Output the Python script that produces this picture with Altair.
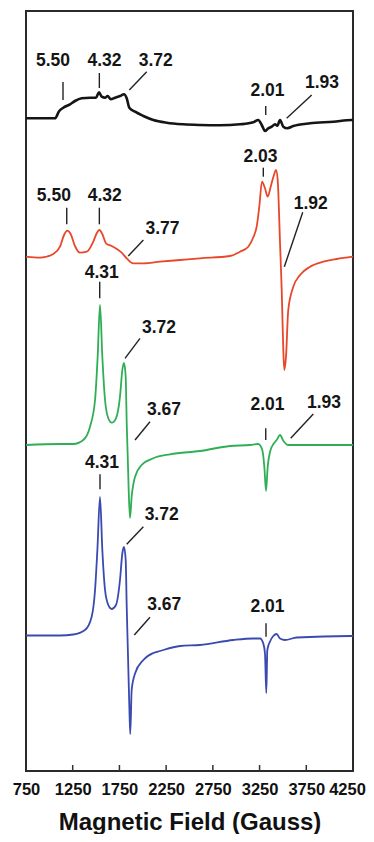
import altair as alt
import pandas as pd

# ---- data (field in Gauss, intensity in arbitrary units) ----
trace_names = ["black", "red", "green", "blue"]
trace_colors = ["#151515", "#e8472a", "#2fae55", "#3a4aae"]
trace_widths = [2.6, 1.8, 1.8, 1.8]
trace_offsets = [652.7, 514.3, 326.0, 135.5]

black_field = [750, 1060, 1106, 1149, 1221, 1274, 1346, 1435, 1499, 1531, 1560, 1596, 1624, 1657,
               1703, 1756, 1799, 1828, 1856, 1917, 2006, 2113, 2256, 2434, 2612, 2826, 3041, 3183,
               3236, 3273, 3308, 3343, 3380, 3415, 3440, 3469, 3504, 3547, 3611, 3790, 4039, 4236, 4250]
black_int = [0, 0, 7.3, 10.6, 14, 17.3, 20, 20.6, 20.6, 26, 21.6, 20.6, 22.3, 19,
             20.6, 22.3, 24, 20, 10.6, 6.6, 2.3, -1.7, -4.4, -6, -6.7, -7, -6, -4,
             -1.7, -6.7, -12.7, -10, -8.4, -6, -7.4, -1.7, -8.4, -10, -7.7, -5, -3.4, -1.7, -1.7]

red_field = [750, 900, 1042, 1114, 1157, 1192, 1228, 1274, 1328, 1400, 1470, 1507, 1535, 1571,
             1606, 1667, 1727, 1774, 1828, 1898, 2006, 2184, 2398, 2612, 2933, 3041, 3129, 3183,
             3219, 3247, 3276, 3308, 3337, 3369, 3404, 3426, 3444, 3469, 3487, 3504, 3515, 3533,
             3557, 3611, 3683, 3790, 3932, 4076, 4250]
red_int = [0, -1, 2.7, 10, 21.7, 26, 22.7, 10.7, 4, 5, 15, 23.4, 26.7, 21.7,
           13.4, 10.7, 7.4, 4, -1.6, -6.6, -6.6, -5, -3.3, -1.6, 0.7, 5, 10, 19.4,
           30, 50, 75, 68.4, 60, 70, 81.7, 86.7, 76.7, 13.4, -33.3, -93.3, -113.3, -100,
           -53.3, -30, -18.3, -10, -5, -2.3, 0]

green_field = [750, 1114, 1256, 1363, 1435, 1489, 1517, 1542, 1567, 1596, 1631, 1667, 1713, 1756,
               1781, 1799, 1817, 1828, 1839, 1849, 1863, 1881, 1917, 1988, 2113, 2291, 2612, 2933,
               3148, 3236, 3279, 3301, 3319, 3337, 3362, 3404, 3433, 3469, 3504, 3557, 3718, 4250]
green_int = [0, 1, 1, 5, 18.3, 45, 88.3, 140, 88.3, 45, 26.7, 22.3, 26.7, 48.3,
             75, 82, 68.3, 21.7, -11.7, -45, -73, -51.7, -31.7, -20, -13.3, -9.3, -6, -1,
             0, 1, -5, -21.7, -46, -21.7, -6.7, 1.7, 5, 10, 4.3, 0, 0, 0]

blue_field = [750, 1114, 1256, 1381, 1453, 1489, 1514, 1542, 1567, 1596, 1631, 1667, 1713, 1756,
              1781, 1799, 1817, 1828, 1842, 1856, 1866, 1881, 1917, 2006, 2113, 2184, 2400, 2612,
              2969, 3183, 3255, 3290, 3308, 3322, 3333, 3362, 3397, 3433, 3469, 3522, 3647, 4218, 4250]
blue_int = [0, 0, 1, 5.5, 18.8, 45.5, 85.5, 138.5, 85.5, 45.5, 30.5, 26.5, 30.5, 55.5,
            82, 88.5, 75.5, 29, -21, -71, -98.5, -54.5, -38, -24.5, -17.5, -15.5, -10.5, -9.5,
            -4.5, -3, -3, -8, -18, -57.5, -14.5, -6, -0.5, 1.5, -3, -4.5, -2, -0.5, -0.5]

fields = [black_field, red_field, green_field, blue_field]
intensities = [black_int, red_int, green_int, blue_int]

# g-value labels: text, field, level
label_text = ["5.50", "4.32", "3.72", "2.01", "1.93",
              "2.03", "5.50", "4.32", "3.77", "1.92",
              "4.31", "3.72", "3.67", "2.01", "1.93",
              "4.31", "3.72", "3.67", "2.01"]
label_field = [1039, 1590, 2139, 3335, 3918,
               3260, 1048, 1593, 2211, 3798,
               1560, 2174, 2227, 3335, 3940,
               1563, 2202, 2229, 3335]
label_level = [710, 710, 710, 680.3, 688.3,
               614.3, 575, 575, 541.7, 567,
               498.3, 442.7, 361, 366, 367.7,
               308.3, 256, 166, 163.7]

# leader lines: start field/level -> end field/level
lead_f1 = [1146, 1535, 2042, 3316, 3808, 3290, 1186, 1535, 2006, 3712, 1539, 1970, 2077, 3316, 3825, 1542, 2006, 2077, 3319]
lead_l1 = [689, 698, 699.3, 665, 676, 603.3, 563.3, 563.3, 531, 558.7, 489.3, 432.7, 349.3, 342.7, 357, 296.7, 244.3, 153.7, 147.7]
lead_f2 = [1146, 1535, 1856, 3316, 3540, 3290, 1186, 1535, 1845, 3515, 1539, 1810, 1917, 3316, 3583, 1542, 1828, 1909, 3319]
lead_l2 = [671, 683, 681, 656, 652.7, 594.3, 546.7, 546.7, 515, 504.3, 472.7, 412.7, 331, 331, 332.7, 281.7, 226.7, 136, 134.3]

tick_values = [750, 1250, 1750, 2250, 2750, 3250, 3750, 4250]
inner_ticks = [1250, 1750, 2250, 2750, 3250, 3750]

FONT = "Liberation Sans"
W, H = 327, 760

xscale = alt.Scale(domain=[750, 4250], nice=False, zero=False)
yscale = alt.Scale(domain=[0, 760], nice=False, zero=False)
xaxis = alt.Axis(values=tick_values, format="d", title="Magnetic Field (Gauss)", grid=False,
                 domain=False, ticks=False, labelFont=FONT, labelFontSize=16.5,
                 labelFontWeight="bold", labelColor="#111", labelPadding=10,
                 labelFlush=False, labelOverlap=False,
                 labelOffset={"condition": {"test": "datum.value == 4250", "value": -6}, "value": 0},
                 titleFont=FONT, titleFontSize=24, titleFontWeight="bold",
                 titleColor="#111", titleBaseline="alphabetic", titleY=58)

layers = []
for name, col, sw, off, f, v in zip(trace_names, trace_colors, trace_widths, trace_offsets, fields, intensities):
    df = pd.DataFrame({"field": f, "value": [off + i for i in v]})
    layers.append(
        alt.Chart(df).mark_line(color=col, strokeWidth=sw, interpolate="monotone").encode(
            x=alt.X("field:Q", scale=xscale, axis=xaxis),
            y=alt.Y("value:Q", scale=yscale, axis=None),
        )
    )

ticks_df = pd.DataFrame({"field": inner_ticks})
layers.append(
    alt.Chart(ticks_df).mark_rule(color="#333", strokeWidth=1.5).encode(
        x=alt.X("field:Q", scale=xscale, axis=xaxis),
        y=alt.value(H),
        y2=alt.value(H - 6),
    )
)

lead_df = pd.DataFrame({"f1": lead_f1, "l1": lead_l1, "f2": lead_f2, "l2": lead_l2})
layers.append(
    alt.Chart(lead_df).mark_rule(color="#222", strokeWidth=1.4).encode(
        x=alt.X("f1:Q", scale=xscale, axis=xaxis),
        x2="f2:Q",
        y=alt.Y("l1:Q", scale=yscale, axis=None),
        y2="l2:Q",
    )
)

lab_df = pd.DataFrame({"text": label_text, "field": label_field, "level": label_level})
layers.append(
    alt.Chart(lab_df).mark_text(font=FONT, fontSize=17.5, fontWeight="bold", color="#151515",
                                align="center", baseline="middle").encode(
        x=alt.X("field:Q", scale=xscale, axis=xaxis),
        y=alt.Y("level:Q", scale=yscale, axis=None),
        text="text:N",
    )
)

chart = alt.layer(*layers).properties(
    width=W, height=H,
    autosize=alt.AutoSizeParams(type="none"),
    padding={"left": 18, "top": 3, "right": 13, "bottom": 63},
).configure_view(stroke="#2a2a2a", strokeWidth=2)

chart.save("out.html", embed_options={"renderer": "svg", "actions": False})
